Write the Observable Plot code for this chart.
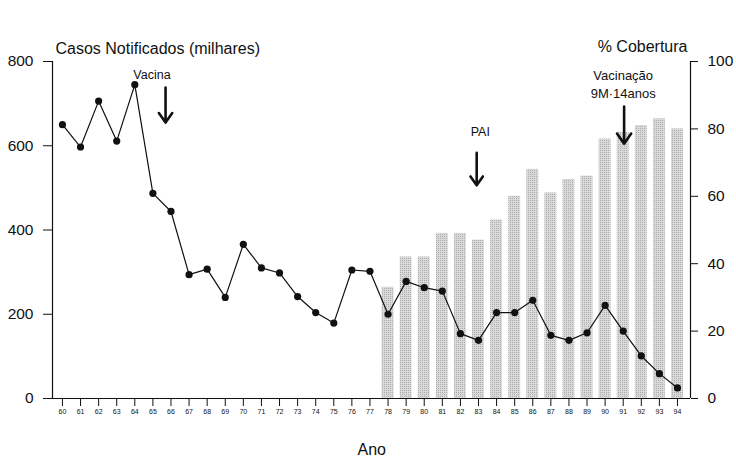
<!DOCTYPE html>
<html>
<head>
<meta charset="utf-8">
<script src="https://cdn.jsdelivr.net/npm/d3@7"></script>
<script src="https://cdn.jsdelivr.net/npm/@observablehq/plot@0.6"></script>
<style>
  html, body { margin: 0; padding: 0; background: #fff; }
  svg { display: block; }
</style>
</head>
<body>
<div id="chart"></div>
<script>
const years = [60,61,62,63,64,65,66,67,68,69,70,71,72,73,74,75,76,77,78,79,80,81,82,83,84,85,86,87,88,89,90,91,92,93,94];
const cases = [650,597,706,611,745,487,444,294,307,240,366,310,298,242,204,179,305,302,200,278,263,255,154,138,204,204,233,150,138,156,221,160,101,59,25];
const coverageYears = [78,79,80,81,82,83,84,85,86,87,88,89,90,91,92,93,94];
const coverage = [33,42,42,49,49,47,53,60,68,61,65,66,77,79,81,83,80];
const casesTicks = [0,200,400,600,800];
const coverageTicks = [0,20,40,60,80,100];
const annotations = [
  {label: "Vacina", year: 65.7},
  {label: "PAI", year: 82.9},
  {label: "Vacinação\n9M·14anos", year: 91.05}
];

const casesData = years.map((y, i) => ({year: y, cases: cases[i]}));
const coverData = coverageYears.map((y, i) => ({year: y, cov: coverage[i]}));
const scaleFactor = 800 / 100; // right axis (0-100%) mapped onto left axis (0-800)
const xDomain = [59.45, 94.72];
const font = "'Liberation Sans', Arial, Helvetica, sans-serif";

const chart = Plot.plot({
  width: 736,
  height: 457,
  marginLeft: 52,
  marginRight: 46,
  marginTop: 61,
  marginBottom: 59,
  style: {fontFamily: font, background: "#fff", color: "#111"},
  x: {type: "linear", domain: xDomain},
  y: {domain: [0, 800]},
  marks: [
    Plot.rectY(coverData, {
      x1: d => d.year - 0.33, x2: d => d.year + 0.33,
      y1: 0, y2: d => d.cov * scaleFactor,
      fill: "url(#stipple)"
    }),
    Plot.ruleX(xDomain, {stroke: "#111", strokeWidth: 1.2}),
    Plot.ruleY([0], {stroke: "#111", strokeWidth: 1.2}),
    Plot.axisX({
      ticks: years, tickFormat: d => String(d), tickSize: 8, tickPadding: 3,
      fontSize: 7, label: null, stroke: "#111",
      fontFamily: "'Liberation Sans Narrow', 'Liberation Sans', Arial, sans-serif"
    }),
    Plot.axisY({
      anchor: "left", ticks: casesTicks, tickSize: 9, tickPadding: 10,
      fontSize: 15.5, label: null, stroke: "#111"
    }),
    Plot.axisY({
      anchor: "right", ticks: coverageTicks.map(d => d * scaleFactor),
      tickFormat: d => String(Math.round(d / scaleFactor)),
      tickSize: 7, tickPadding: 10, fontSize: 15.5, label: null, stroke: "#111"
    }),
    Plot.line(casesData, {x: "year", y: "cases", stroke: "#111", strokeWidth: 1.2}),
    Plot.dot(casesData, {x: "year", y: "cases", r: 3.6, fill: "#111", stroke: "none"}),
    // axis titles
    Plot.text(["Casos Notificados (milhares)"], {
      x: xDomain[0], y: 800, dx: 3, dy: -13, text: d => d,
      textAnchor: "start", fontSize: 16, fill: "#111"
    }),
    Plot.text(["% Cobertura"], {
      x: xDomain[1], y: 800, dx: -3, dy: -15, text: d => d,
      textAnchor: "end", fontSize: 16, fill: "#111"
    }),
    Plot.text(["Ano"], {
      x: 77.1, y: 0, dy: 51, text: d => d, fontSize: 16, fill: "#111"
    }),
    // annotations
    Plot.text([annotations[0]], {x: 64.95, y: 767, text: "label", fontSize: 12.5, fill: "#111"}),
    Plot.arrow([annotations[0]], {x1: "year", x2: "year", y1: 738, y2: 655, stroke: "#111", strokeWidth: 2.6, headLength: 9, headAngle: 70}),
    Plot.text([annotations[1]], {x: 83.1, y: 632, text: "label", fontSize: 12.5, fill: "#111"}),
    Plot.arrow([annotations[1]], {x1: "year", x2: "year", y1: 583, y2: 506, stroke: "#111", strokeWidth: 2.6, headLength: 9, headAngle: 70}),
    Plot.text([annotations[2]], {x: 91, y: 749, text: "label", fontSize: 13, lineHeight: 1.4, fill: "#111"}),
    Plot.arrow([annotations[2]], {x1: "year", x2: "year", y1: 693, y2: 605, stroke: "#111", strokeWidth: 2.6, headLength: 9, headAngle: 70})
  ]
});

// fine stipple pattern for the coverage bars
const defs = d3.select(chart).insert("defs", ":first-child");
const pat = defs.append("pattern")
  .attr("id", "stipple").attr("width", 2).attr("height", 2)
  .attr("patternUnits", "userSpaceOnUse");
pat.append("rect").attr("width", 2).attr("height", 2).attr("fill", "#dadada");
pat.append("rect").attr("width", 1).attr("height", 1).attr("fill", "#acacac");

document.getElementById("chart").appendChild(chart);
</script>
</body>
</html>
